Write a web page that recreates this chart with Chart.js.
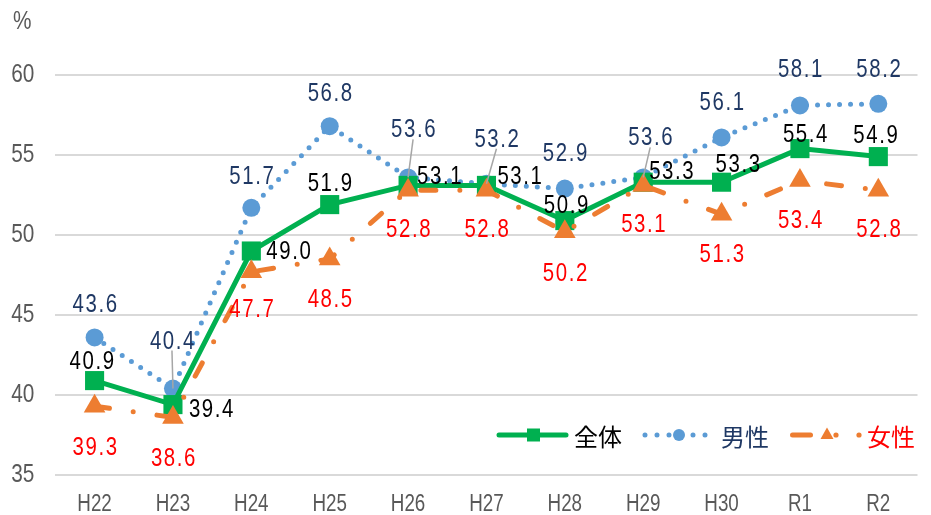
<!DOCTYPE html>
<html><head><meta charset="utf-8">
<script src="https://cdn.jsdelivr.net/npm/chart.js@4/dist/chart.umd.min.js"></script>
<style>html,body{margin:0;padding:0;background:#fff}#wrap{width:931px;height:515px}</style>
</head><body><div id="wrap"><canvas id="c" width="931" height="515"></canvas></div>
<script>
// ---- data ----
const categories = ['H22','H23','H24','H25','H26','H27','H28','H29','H30','R1','R2'];
const totalValues  = [40.9, 39.4, 49.0, 51.9, 53.1, 53.1, 50.9, 53.3, 53.3, 55.4, 54.9];
const maleValues   = [43.6, 40.4, 51.7, 56.8, 53.6, 53.2, 52.9, 53.6, 56.1, 58.1, 58.2];
const femaleValues = [39.3, 38.6, 47.7, 48.5, 52.8, 52.8, 50.2, 53.1, 51.3, 53.4, 52.8];
const seriesNames  = ['全体', '男性', '女性'];
const yTickValues  = [35, 40, 45, 50, 55, 60];
const unitLabel    = '%';

// ---- label placement (layout only) ----
const totalLabelOffset  = [[-3,-21],[38,3],[37,-1],[0,-23],[31,-10],[33,-10],[1,-17],[28,-12],[16,-19],[5,-16],[-3,-23]];
const maleLabelOffset   = [[0,-34],[-1,-49],[0,-33],[0,-34],[5,-49],[10,-46],[0,-37],[7,-41],[0,-36],[0,-37],[0,-36]];
const maleLeader        = [false,true,false,false,true,true,false,true,false,false,false];
const femaleLabelOffset = [[0,40],[0,40],[0,36],[0,39],[0,38],[0,38],[0,40],[0,38],[0,39],[0,38],[0,38]];

const GREEN = '#00B050', BLUE = '#5B9BD5', ORANGE = '#ED7D31';
const NAVY = '#1F3864', RED = '#FF0000', GRAY = '#595959';
const SANS = "'Liberation Sans', Arial, sans-serif";
const CJK = "'Noto Sans CJK JP', sans-serif";
const SQUEEZE = 0.8;

function fillSqueezed(ctx, text, x, y) {
  ctx.save();
  ctx.translate(x, y);
  ctx.scale(SQUEEZE, 1);
  ctx.fillText(text, 0, 0);
  ctx.restore();
}

// condense the library's own axis tick text (drawn before the datasets)
const condensePlugin = {
  id: 'condense',
  beforeDraw(chart) {
    const ctx = chart.ctx;
    if (ctx._origFill) return;
    const orig = ctx.fillText;
    ctx._origFill = orig;
    ctx.fillText = function (t, x, y, mw) {
      this.save();
      this.translate(x, y);
      this.scale(SQUEEZE, 1);
      if (mw === undefined) orig.call(this, t, 0, 0); else orig.call(this, t, 0, 0, mw / SQUEEZE);
      this.restore();
    };
  },
  beforeDatasetsDraw(chart) {
    const ctx = chart.ctx;
    if (ctx._origFill) { ctx.fillText = ctx._origFill; delete ctx._origFill; }
  }
};

const labelPlugin = {
  id: 'labels',
  afterDatasetsDraw(chart) {
    const ctx = chart.ctx;
    const specs = [
      {ds: 1, off: maleLabelOffset, color: NAVY, leader: maleLeader},
      {ds: 0, off: totalLabelOffset, color: '#000000'},
      {ds: 2, off: femaleLabelOffset, color: RED}
    ];
    ctx.save();
    ctx.font = '25.5px ' + SANS;
    ctx.textAlign = 'center';
    ctx.textBaseline = 'alphabetic';
    try { ctx.letterSpacing = '2px'; } catch (e) {}
    specs.forEach(s => {
      const meta = chart.getDatasetMeta(s.ds);
      const vals = chart.data.datasets[s.ds].data;
      meta.data.forEach((pt, i) => {
        const cx = pt.x + s.off[i][0], cy = pt.y + s.off[i][1];
        if (s.leader && s.leader[i]) {
          ctx.save();
          ctx.strokeStyle = '#A6A6A6';
          ctx.lineWidth = 1.5;
          ctx.beginPath();
          ctx.moveTo(cx, cy + 11);
          ctx.lineTo(pt.x, pt.y);
          ctx.stroke();
          ctx.restore();
        }
        ctx.fillStyle = s.color;
        fillSqueezed(ctx, Number(vals[i]).toFixed(1), cx + 1, cy + 9);
      });
    });
    ctx.restore();
  },
  afterDraw(chart) {
    const ctx = chart.ctx;
    ctx.save();
    // unit label
    ctx.font = '26px ' + SANS;
    ctx.fillStyle = GRAY;
    ctx.textAlign = 'left';
    ctx.textBaseline = 'middle';
    fillSqueezed(ctx, unitLabel, 13, 22);

    // legend
    const ly = 435;
    ctx.lineCap = 'round';
    // 全体
    ctx.strokeStyle = GREEN; ctx.lineWidth = 5;
    ctx.beginPath(); ctx.moveTo(499, ly); ctx.lineTo(566, ly); ctx.stroke();
    ctx.fillStyle = GREEN; ctx.fillRect(527, ly - 6.5, 13, 13);
    // 男性
    ctx.strokeStyle = BLUE; ctx.lineWidth = 5; ctx.setLineDash([0, 12]);
    ctx.beginPath(); ctx.moveTo(645, ly); ctx.lineTo(708, ly); ctx.stroke();
    ctx.setLineDash([]);
    ctx.fillStyle = BLUE; ctx.beginPath(); ctx.arc(679, ly, 6, 0, Math.PI * 2); ctx.fill();
    // 女性
    ctx.strokeStyle = ORANGE; ctx.lineWidth = 5;
    ctx.beginPath(); ctx.moveTo(792.5, ly); ctx.lineTo(810.5, ly); ctx.stroke();
    ctx.fillStyle = ORANGE;
    ctx.beginPath(); ctx.moveTo(827, ly - 7.5); ctx.lineTo(833.5, ly + 4); ctx.lineTo(820.5, ly + 4); ctx.closePath(); ctx.fill();
    ctx.beginPath(); ctx.arc(836, ly, 2.6, 0, Math.PI * 2); ctx.fill();
    ctx.beginPath(); ctx.arc(859, ly, 2.6, 0, Math.PI * 2); ctx.fill();
    // legend texts
    ctx.font = '24px ' + CJK;
    ctx.textAlign = 'left';
    ctx.textBaseline = 'middle';
    ctx.fillStyle = '#000000'; ctx.fillText(seriesNames[0], 574, ly + 2);
    ctx.fillStyle = NAVY; ctx.fillText(seriesNames[1], 721, ly + 2);
    ctx.fillStyle = RED; ctx.fillText(seriesNames[2], 867, ly + 2);
    ctx.restore();
  }
};

new Chart(document.getElementById('c'), {
  type: 'line',
  data: {
    labels: categories,
    datasets: [
      { label: seriesNames[0], data: totalValues, borderColor: GREEN, backgroundColor: GREEN,
        borderWidth: 5, pointStyle: 'rect', pointRadius: 13.5, pointBorderWidth: 0,
        tension: 0, order: 1 },
      { label: seriesNames[1], data: maleValues, borderColor: BLUE, backgroundColor: BLUE,
        borderWidth: 5, borderDash: [0, 11], borderCapStyle: 'round',
        pointStyle: 'circle', pointRadius: 9, pointBorderWidth: 0, tension: 0, order: 2 },
      { label: seriesNames[2], data: femaleValues, borderColor: ORANGE, backgroundColor: ORANGE,
        borderWidth: 5, borderDash: [15, 24, 0, 24], borderCapStyle: 'round',
        pointStyle: 'triangle', pointRadius: 12.5, pointBorderWidth: 0, tension: 0, order: 0 }
    ]
  },
  options: {
    responsive: false,
    animation: false,
    devicePixelRatio: 1,
    events: [],
    layout: { padding: { top: 75, right: 4.4, left: 0, bottom: 0 } },
    plugins: { legend: { display: false }, tooltip: { enabled: false }, title: { display: false } },
    scales: {
      x: {
        offset: true,
        grid: { display: false, drawTicks: false },
        border: { display: false },
        ticks: { color: GRAY, font: { size: 23.5, family: SANS }, padding: 15, autoSkip: false, maxRotation: 0 },
        afterFit(scale) { scale.height = 40; }
      },
      y: {
        min: 35, max: 60,
        afterBuildTicks(scale) { scale.ticks = yTickValues.map(v => ({ value: v })); },
        grid: { color: '#D9D9D9', lineWidth: 2, drawTicks: false },
        border: { display: false },
        ticks: { color: GRAY, font: { size: 26, family: SANS }, padding: 21 },
        afterFit(scale) { scale.width = 55.4; }
      }
    }
  },
  plugins: [condensePlugin, labelPlugin]
});
</script>
</body></html>
